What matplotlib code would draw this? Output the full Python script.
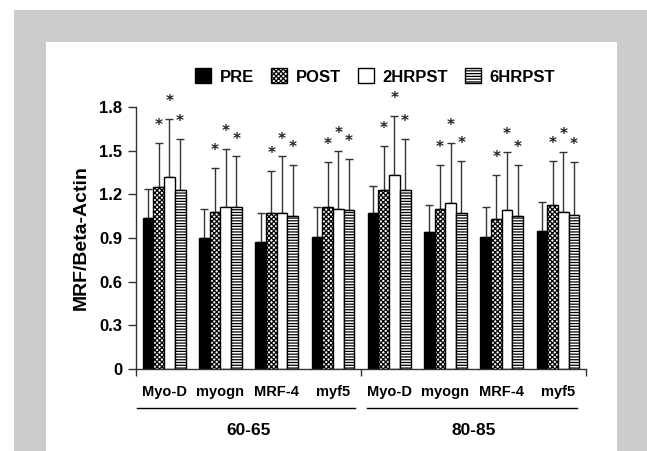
import matplotlib
matplotlib.use("Agg")
import matplotlib.pyplot as plt
import numpy as np
from matplotlib.patches import Rectangle, Patch
from matplotlib.lines import Line2D

plt.rcParams['font.family'] = ['Liberation Sans', 'DejaVu Sans']
plt.rcParams['hatch.linewidth'] = 0.9

categories = ["Myo-D", "myogn", "MRF-4", "myf5", "Myo-D", "myogn", "MRF-4", "myf5"]
age_groups = ["60-65", "80-85"]
series_names = ["PRE", "POST", "2HRPST", "6HRPST"]

pre = [1.04, 0.90, 0.87, 0.91, 1.07, 0.94, 0.91, 0.95]
post = [1.25, 1.08, 1.07, 1.11, 1.23, 1.10, 1.03, 1.13]
hr2 = [1.32, 1.11, 1.07, 1.10, 1.33, 1.14, 1.09, 1.08]
hr6 = [1.23, 1.11, 1.05, 1.09, 1.23, 1.07, 1.05, 1.06]

pre_err = [0.20, 0.20, 0.20, 0.20, 0.19, 0.19, 0.20, 0.20]
post_err = [0.30, 0.30, 0.29, 0.31, 0.30, 0.30, 0.30, 0.30]
hr2_err = [0.40, 0.40, 0.39, 0.40, 0.41, 0.41, 0.40, 0.41]
hr6_err = [0.35, 0.35, 0.35, 0.35, 0.35, 0.36, 0.35, 0.36]

# significance flags (1 = star)
pre_sig = [0] * 8
post_sig = [1] * 8
hr2_sig = [1] * 8
hr6_sig = [1] * 8

yticks = [0, 0.3, 0.6, 0.9, 1.2, 1.5, 1.8]
ytick_labels = ["0", "0.3", "0.6", "0.9", "1.2", "1.5", "1.8"]

W, H = 647, 451
fig = plt.figure(figsize=(W / 100, H / 100), dpi=100)
fig.patches.append(Rectangle((14 / W, 0), 1 - 14 / W, (H - 10) / H, transform=fig.transFigure,
                             facecolor="#cccccc", edgecolor="none", zorder=-10))
fig.patches.append(Rectangle((46 / W, 0), (617 - 46) / W, (H - 42) / H, transform=fig.transFigure,
                             facecolor="white", edgecolor="none", zorder=-9))

ax = fig.add_axes([136 / W, (H - 369) / H, 450 / W, 262 / H])
ax.set_facecolor("none")

x = np.arange(len(categories))
w = 0.19
series = [pre, post, hr2, hr6]
errs = [pre_err, post_err, hr2_err, hr6_err]
sigs = [pre_sig, post_sig, hr2_sig, hr6_sig]
faces = ["black", "white", "white", "white"]
hatches = [None, "xxxxxxx", None, "------"]

for k in range(4):
    xs = x + (k - 1.5) * w
    ax.bar(xs, series[k], width=w, color=faces[k], edgecolor="black", linewidth=1.0,
           hatch=hatches[k], zorder=2)
    ax.errorbar(xs, series[k], yerr=[np.zeros(8), errs[k]], fmt="none", ecolor="#333333",
                elinewidth=1.0, capsize=3, capthick=1.0, zorder=1)
    for i in range(8):
        if sigs[k][i]:
            ax.text(xs[i], series[k][i] + errs[k][i] + 0.12, "*", ha="center", va="center",
                    fontsize=11, color="#222222", family="DejaVu Sans", fontweight="bold")

ax.set_xlim(-0.5, 7.5)
ax.set_ylim(0, 1.8)
ax.set_yticks(yticks)
ax.set_yticklabels(ytick_labels, fontsize=12, fontweight="bold")
ax.set_xticks([-0.5, 3.5, 7.5])
ax.set_xticklabels([])
ax.tick_params(axis="y", direction="out", length=6, width=1, colors="#333333", labelcolor="black", pad=4)
ax.tick_params(axis="x", direction="out", length=5, width=1, colors="#333333")
for s in ["top", "right"]:
    ax.spines[s].set_visible(False)
for s in ["left", "bottom"]:
    ax.spines[s].set_color("#333333")
    ax.spines[s].set_linewidth(1.0)

ax.set_ylabel("MRF/Beta-Actin", fontsize=14, fontweight="bold", labelpad=7)

trans = ax.get_xaxis_transform()
for i, c in enumerate(categories):
    ax.text(x[i], -0.088, c, transform=trans, ha="center", va="center", fontsize=10.5, fontweight="bold")

ax.add_line(Line2D([-0.48, 3.40], [-0.149, -0.149], transform=trans, color="black", lw=1.0, clip_on=False))
ax.add_line(Line2D([3.61, 7.34], [-0.149, -0.149], transform=trans, color="black", lw=1.0, clip_on=False))
ax.text(1.5, -0.235, age_groups[0], transform=trans, ha="center", va="center", fontsize=12.5, fontweight="bold")
ax.text(5.5, -0.235, age_groups[1], transform=trans, ha="center", va="center", fontsize=12.5, fontweight="bold")

handles = [Patch(facecolor=faces[k], edgecolor="black", hatch=hatches[k], linewidth=1.0) for k in range(4)]
leg = fig.legend(handles, series_names, loc="center", bbox_to_anchor=(375 / W, 1 - 76.5 / H), ncol=4,
                 frameon=False, prop={"weight": "bold", "size": 12}, handlelength=1.0, handleheight=1.0,
                 handletextpad=0.5, columnspacing=1.0)

fig.savefig("out.png", dpi=100)
